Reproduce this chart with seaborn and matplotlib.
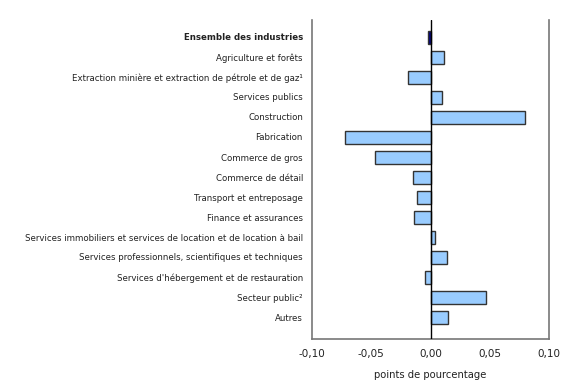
import matplotlib
matplotlib.use("Agg")
import matplotlib.pyplot as plt
import seaborn as sns
import pandas as pd

categories = [
    "Ensemble des industries",
    "Agriculture et forêts",
    "Extraction minière et extraction de pétrole et de gaz¹",
    "Services publics",
    "Construction",
    "Fabrication",
    "Commerce de gros",
    "Commerce de détail",
    "Transport et entreposage",
    "Finance et assurances",
    "Services immobiliers et services de location et de location à bail",
    "Services professionnels, scientifiques et techniques",
    "Services d'hébergement et de restauration",
    "Secteur public²",
    "Autres",
]
values = [-0.0025, 0.011, -0.019, 0.010, 0.080, -0.072, -0.047, -0.015,
          -0.011, -0.014, 0.004, 0.014, -0.005, 0.047, 0.015]
xticks = [-0.10, -0.05, 0.0, 0.05, 0.10]
xticklabels = ["-0,10", "-0,05", "0,00", "0,05", "0,10"]

sns.set_style("white")
plt.rcParams['font.family'] = ['DejaVu Sans']
plt.rcParams['text.color'] = '#222222'

df = pd.DataFrame({"cat": categories, "val": values})
colors = ["#000080"] + ["#99CCFF"] * (len(categories) - 1)

fig = plt.figure(figsize=(5.8, 3.8), dpi=100)
ax = fig.add_axes([312/580, 1 - 339/380, (549 - 312)/580, (339 - 20)/380])

sns.barplot(data=df, y="cat", x="val", hue="cat", palette=colors, legend=False,
            orient="h", width=0.65, saturation=1, edgecolor="#333333",
            linewidth=1.0, ax=ax)

ax.axvline(0, color="black", linewidth=1.0, zorder=5)
ax.set_xlim(-0.10, 0.10)
ax.set_ylim(15.1, -0.85)
ax.set_xticks(xticks)
ax.set_xticklabels(xticklabels, fontsize=7.5, color="#222222")
ax.set_xlabel("points de pourcentage", fontsize=7.2, labelpad=8, color="#222222")
ax.set_ylabel("")
ax.tick_params(axis="y", length=0, labelsize=6.2, pad=6.5, labelcolor="#222222")
ax.tick_params(axis="x", direction="in", length=4, width=1.2, color="#666666", pad=7)
for lbl in ax.get_yticklabels():
    if lbl.get_text() == "Ensemble des industries":
        lbl.set_fontweight("bold")

for side in ["left", "right", "bottom"]:
    ax.spines[side].set_color("#777777")
    ax.spines[side].set_linewidth(1.2)
ax.spines["top"].set_visible(False)

fig.savefig("out.png", dpi=100)
